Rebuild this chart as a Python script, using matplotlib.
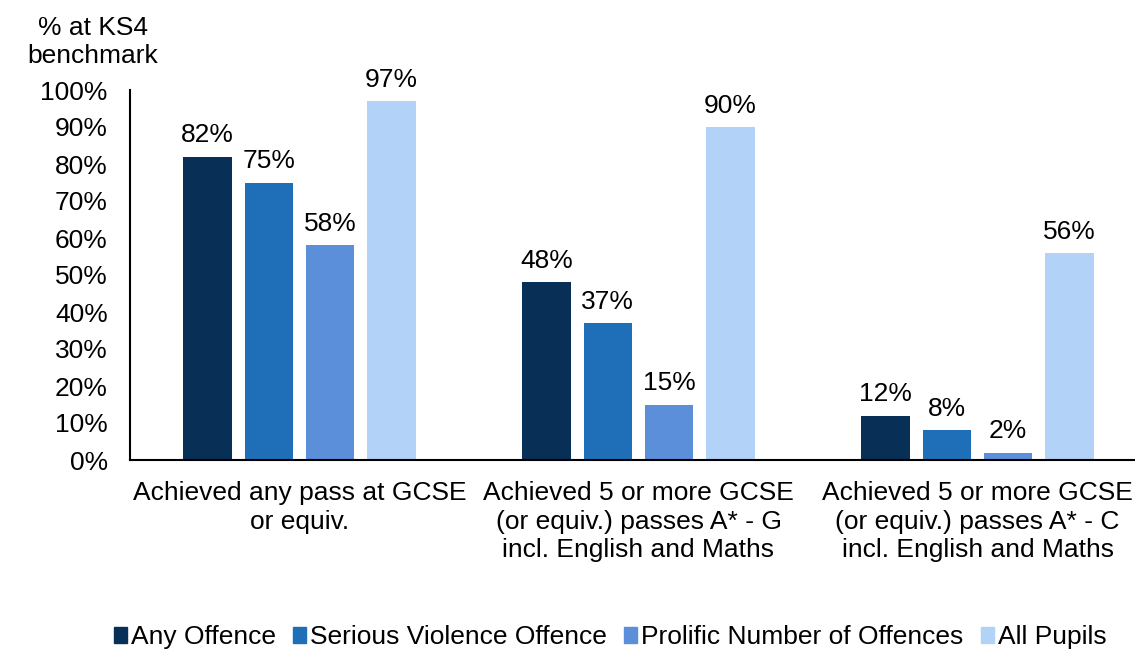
import numpy as np
import matplotlib
matplotlib.use("Agg")
import matplotlib.pyplot as plt
from matplotlib.patches import Patch

plt.rcParams['font.family'] = ['Liberation Sans', 'DejaVu Sans']

categories = ["Achieved any pass at GCSE\nor equiv.",
              "Achieved 5 or more GCSE\n(or equiv.) passes A* - G\nincl. English and Maths",
              "Achieved 5 or more GCSE\n(or equiv.) passes A* - C\nincl. English and Maths"]
series = ["Any Offence", "Serious Violence Offence",
          "Prolific Number of Offences", "All Pupils"]
any_offence = [82, 48, 12]
serious_violence = [75, 37, 8]
prolific = [58, 15, 2]
all_pupils = [97, 90, 56]
colors = ["#083057", "#1F6FB8", "#5B8FD9", "#B3D2F7"]

values = [any_offence, serious_violence, prolific, all_pupils]
fs = 19

fig = plt.figure(figsize=(11.35, 6.5), dpi=100)
ax = fig.add_axes([130/1135, 190/650, 1017/1135, 370/650])

x = np.arange(len(categories))
pitch = 0.181
width = 0.142
for i, (vals, col) in enumerate(zip(values, colors)):
    pos = x + (i - 1.5) * pitch
    ax.bar(pos, vals, width=width, color=col)
    for p, v in zip(pos, vals):
        ax.text(p, v + 2.5, f"{v}%", ha='center', va='bottom', fontsize=fs)

ax.set_xlim(-0.5, 2.5)
ax.set_ylim(0, 100)
ax.set_yticks(np.arange(0, 101, 10))
ax.set_yticklabels([f"{t}%" for t in range(0, 101, 10)], fontsize=fs)
ax.set_xticks(x)
ax.set_xticklabels(categories, fontsize=fs, linespacing=1.25)
ax.tick_params(axis='both', length=0)
ax.tick_params(axis='y', pad=16)
ax.tick_params(axis='x', pad=15)
for s in ['top', 'right']:
    ax.spines[s].set_visible(False)
ax.spines['left'].set_linewidth(1.5)
ax.spines['bottom'].set_linewidth(1.5)

fig.text(93/1135, 1 - 42/650, "% at KS4\nbenchmark", ha='center', va='center',
         fontsize=fs, linespacing=1.25)

handles = [Patch(color=c) for c in colors]
fig.legend(handles, series, loc='center', bbox_to_anchor=(610/1135, 1 - 637/650),
           ncol=4, frameon=False, fontsize=fs, handlelength=0.5, handleheight=0.55,
           handletextpad=0.15, columnspacing=0.65)

fig.savefig("out.png", dpi=100)
